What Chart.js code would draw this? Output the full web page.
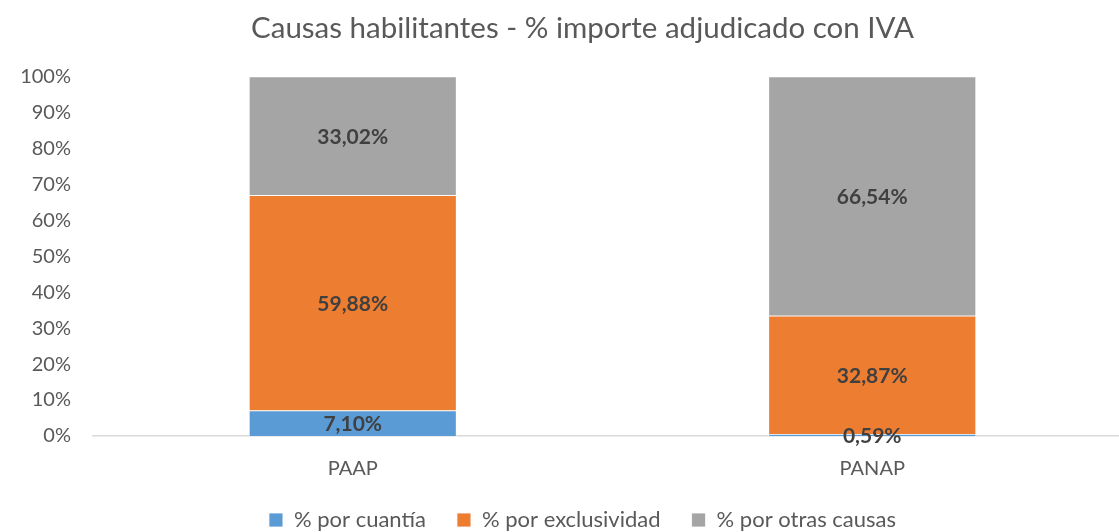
<!DOCTYPE html>
<html><head><meta charset="utf-8">
<script src="https://cdn.jsdelivr.net/npm/chart.js@4/dist/chart.umd.min.js"></script>
<style>
html,body{margin:0;padding:0;background:#fff;overflow:hidden;}
#wrap{width:1119px;height:532px;position:relative;overflow:hidden;}
</style></head>
<body><div id="wrap"><canvas id="c" width="1165" height="541"></canvas></div>
<script>
const categories = ["PAAP", "PANAP"];
const seriesNames = ["% por cuantía", "% por exclusividad", "% por otras causas"];
const cuantia = [7.10, 0.59];
const exclusividad = [59.88, 32.87];
const otras = [33.02, 66.54];
const yTicks = [0,10,20,30,40,50,60,70,80,90,100];
const colors = ["#5B9BD5", "#ED7D31", "#A5A5A5"];

const fontFam = "Lato, 'Open Sans', sans-serif";

const labelPlugin = {
  id: 'barLabels',
  afterDatasetsDraw(chart) {
    const ctx = chart.ctx;
    ctx.save();
    ctx.font = "bold 21px " + fontFam;
    ctx.fillStyle = "#404040";
    ctx.textAlign = "center";
    ctx.textBaseline = "middle";
    chart.data.datasets.forEach((ds, i) => {
      const meta = chart.getDatasetMeta(i);
      meta.data.forEach((bar, j) => {
        const v = ds.data[j];
        const y = (bar.y + bar.base) / 2;
        ctx.fillText(v.toFixed(2).replace('.', ',') + '%', bar.x, y + 1);
      });
    });
    ctx.restore();
  }
};

new Chart(document.getElementById('c'), {
  type: 'bar',
  data: {
    labels: categories,
    datasets: [
      {label: seriesNames[0], data: cuantia, backgroundColor: colors[0]},
      {label: seriesNames[1], data: exclusividad, backgroundColor: colors[1]},
      {label: seriesNames[2], data: otras, backgroundColor: colors[2]}
    ].map(d => Object.assign(d, {borderColor: '#ffffff', borderWidth: 0.8, categoryPercentage: 1, barPercentage: 0.4}))
  },
  options: {
    responsive: false,
    animation: false,
    layout: {padding: 0},
    plugins: {
      title: {display: true, text: "Causas habilitantes - % importe adjudicado con IVA",
        color: "#595959", font: {family: fontFam, size: 29.5, weight: 'normal'}, padding: {top: 11, bottom: 30}},
      legend: {position: 'bottom',
        labels: {color: "#595959", font: {family: fontFam, size: 22}, boxWidth: 14, boxHeight: 14, padding: 31}},
      tooltip: {enabled: false}
    },
    scales: {
      x: {stacked: true, grid: {display: false, drawTicks: false}, border: {display: true, color: '#d9d9d9', width: 1.5},
        ticks: {color: "#595959", font: {family: fontFam, size: 20}, padding: 21},
        afterFit(s) { s.height = 42; }},
      y: {stacked: true, min: 0, max: 100, grid: {display: false, drawTicks: false}, border: {display: false},
        afterBuildTicks(s) { s.ticks = yTicks.map(v => ({value: v})); },
        ticks: {color: "#595959", font: {family: fontFam, size: 20}, padding: 22, callback: v => v + '%'},
        afterFit(s) { s.width = 93; }},
      yRight: {position: 'right', display: true, min: 0, max: 100, grid: {display: false, drawTicks: false},
        border: {display: false}, ticks: {display: false},
        afterFit(s) { s.width = 33; }}
    }
  },
  plugins: [labelPlugin]
});
</script></body></html>
